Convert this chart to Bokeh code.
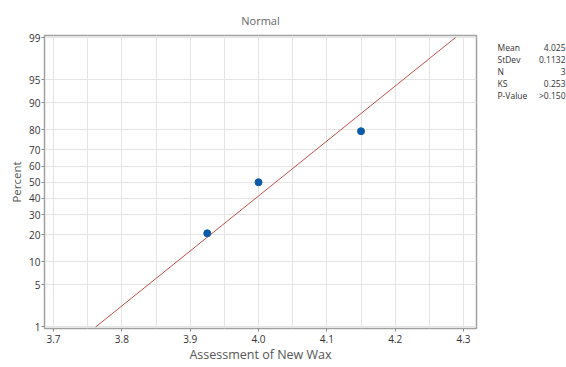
import math
from bokeh.plotting import figure
from bokeh.layouts import row
from bokeh.models import FixedTicker, Range1d, Title
from bokeh.embed import file_html
from bokeh.resources import INLINE

# ---- data ----
values = [3.925, 4.0, 4.15]
percents = [20.6, 50.0, 79.4]
fit_mean = 4.025
fit_stdev = 0.1132
fit_percent_ends = [1, 99]
y_tick_percents = [1, 5, 10, 20, 30, 40, 50, 60, 70, 80, 90, 95, 99]
x_major_ticks = [3.7, 3.8, 3.9, 4.0, 4.1, 4.2, 4.3]
x_grid_ticks = [3.7, 3.75, 3.8, 3.85, 3.9, 3.95, 4.0, 4.05, 4.1, 4.15, 4.2, 4.25, 4.3]
stat_names = ["Mean", "StDev", "N", "KS", "P-Value"]
stat_values = ["4.025", "0.1132", "3", "0.253", ">0.150"]


def norm_ppf(p):
    """Acklam's inverse normal CDF approximation."""
    a = [-3.969683028665376e+01, 2.209460984245205e+02, -2.759285104469687e+02,
         1.383577518672690e+02, -3.066479806614716e+01, 2.506628277459239e+00]
    b = [-5.447609879822406e+01, 1.615858368580409e+02, -1.556989798598866e+02,
         6.680131188771972e+01, -1.328068155288572e+01]
    c = [-7.784894002430293e-03, -3.223964580411365e-01, -2.400758277161838e+00,
         -2.549732539343734e+00, 4.374664141464968e+00, 2.938163982698783e+00]
    d = [7.784695709041462e-03, 3.224671290700398e-01, 2.445134137142996e+00,
         3.754408661907416e+00]
    plow = 0.02425
    phigh = 1 - plow
    if p < plow:
        q = math.sqrt(-2 * math.log(p))
        return (((((c[0]*q+c[1])*q+c[2])*q+c[3])*q+c[4])*q+c[5]) / \
               ((((d[0]*q+d[1])*q+d[2])*q+d[3])*q+1)
    if p > phigh:
        q = math.sqrt(-2 * math.log(1 - p))
        return -(((((c[0]*q+c[1])*q+c[2])*q+c[3])*q+c[4])*q+c[5]) / \
                ((((d[0]*q+d[1])*q+d[2])*q+d[3])*q+1)
    q = p - 0.5
    r = q * q
    return (((((a[0]*r+a[1])*r+a[2])*r+a[3])*r+a[4])*r+a[5])*q / \
           (((((b[0]*r+b[1])*r+b[2])*r+b[3])*r+b[4])*r+1)


FONT = "Open Sans"
TXT = "#555555"
H = 367
FRAME_TOP = 35
FRAME_BOTTOM = 328

y_ticks = [norm_ppf(v / 100.0) for v in y_tick_percents]
pt_y = [norm_ppf(v / 100.0) for v in percents]
line_y = [norm_ppf(v / 100.0) for v in fit_percent_ends]
line_x = [fit_mean + fit_stdev * z for z in line_y]

p = figure(width=481, height=H, output_backend="svg", toolbar_location=None,
           x_range=Range1d(3.6868, 4.319), y_range=Range1d(-2.3505, 2.3585),
           min_border_left=44, min_border_right=5, min_border_top=FRAME_TOP,
           min_border_bottom=H - FRAME_BOTTOM, title=None)
p.add_layout(Title(text="Normal", align="center", offset=23, standoff=16,
                   text_font=FONT, text_font_size="11px", text_font_style="normal",
                   text_color="#666666"), "above")

p.outline_line_color = "#a0a0a0"
p.outline_line_width = 1.5

p.xaxis.ticker = FixedTicker(ticks=x_major_ticks, minor_ticks=x_grid_ticks)
p.xgrid.ticker = FixedTicker(ticks=x_grid_ticks)
p.yaxis.ticker = FixedTicker(ticks=y_ticks, minor_ticks=[])
p.ygrid.ticker = FixedTicker(ticks=y_ticks)
p.yaxis.major_label_overrides = {t: str(v) for t, v in zip(y_ticks, y_tick_percents)}
p.xaxis.major_label_overrides = {t: f"{t:.1f}" for t in x_major_ticks}

for g in (p.xgrid, p.ygrid):
    g.grid_line_color = "#e4e4e4"
    g.grid_line_width = 1

for ax in (p.xaxis, p.yaxis):
    ax.axis_line_color = None
    ax.major_tick_line_color = "#888888"
    ax.major_tick_in = 0
    ax.major_tick_out = 3
    ax.minor_tick_line_color = None
    ax.major_label_text_font = FONT
    ax.major_label_text_font_size = "10px"
    ax.major_label_text_color = "#333333"
    ax.axis_label_text_font = FONT
    ax.axis_label_text_font_style = "normal"
    ax.axis_label_text_color = TXT

p.xaxis.axis_label = "Assessment of New Wax"
p.xaxis.axis_label_text_font_size = "12.5px"
p.xaxis.major_label_standoff = 2
p.xaxis.axis_label_standoff = 0
p.yaxis.axis_label = "Percent"
p.yaxis.axis_label_text_font_size = "11.5px"
p.yaxis.major_label_standoff = 1
p.yaxis.axis_label_standoff = 2

p.line(line_x, line_y, line_color="#c0504d", line_width=1)
p.scatter(values, pt_y, size=7, fill_color="#0a5aa8", line_color="#0a5aa8")

# side panel holding the statistics table (its frame is aligned with the main frame)
side = figure(width=85, height=H, output_backend="svg", toolbar_location=None,
              x_range=Range1d(0, 85), y_range=Range1d(FRAME_BOTTOM, FRAME_TOP),
              x_axis_location=None, y_axis_location=None,
              min_border=0, outline_line_color=None)
side.grid.visible = False
row_y = [47 + 12 * i for i in range(len(stat_names))]
side.text(x=[16] * len(stat_names), y=row_y, text=stat_names,
          text_font_size="8.5px", text_color="#333333", text_baseline="middle",
          text_font={"value": FONT})
side.text(x=[84] * len(stat_values), y=row_y, text=stat_values,
          text_font_size="8.5px", text_color="#333333", text_baseline="middle",
          text_align="right", text_font={"value": FONT})

layout = row(p, side, spacing=0)
open("out.html", "w").write(file_html(layout, INLINE))
